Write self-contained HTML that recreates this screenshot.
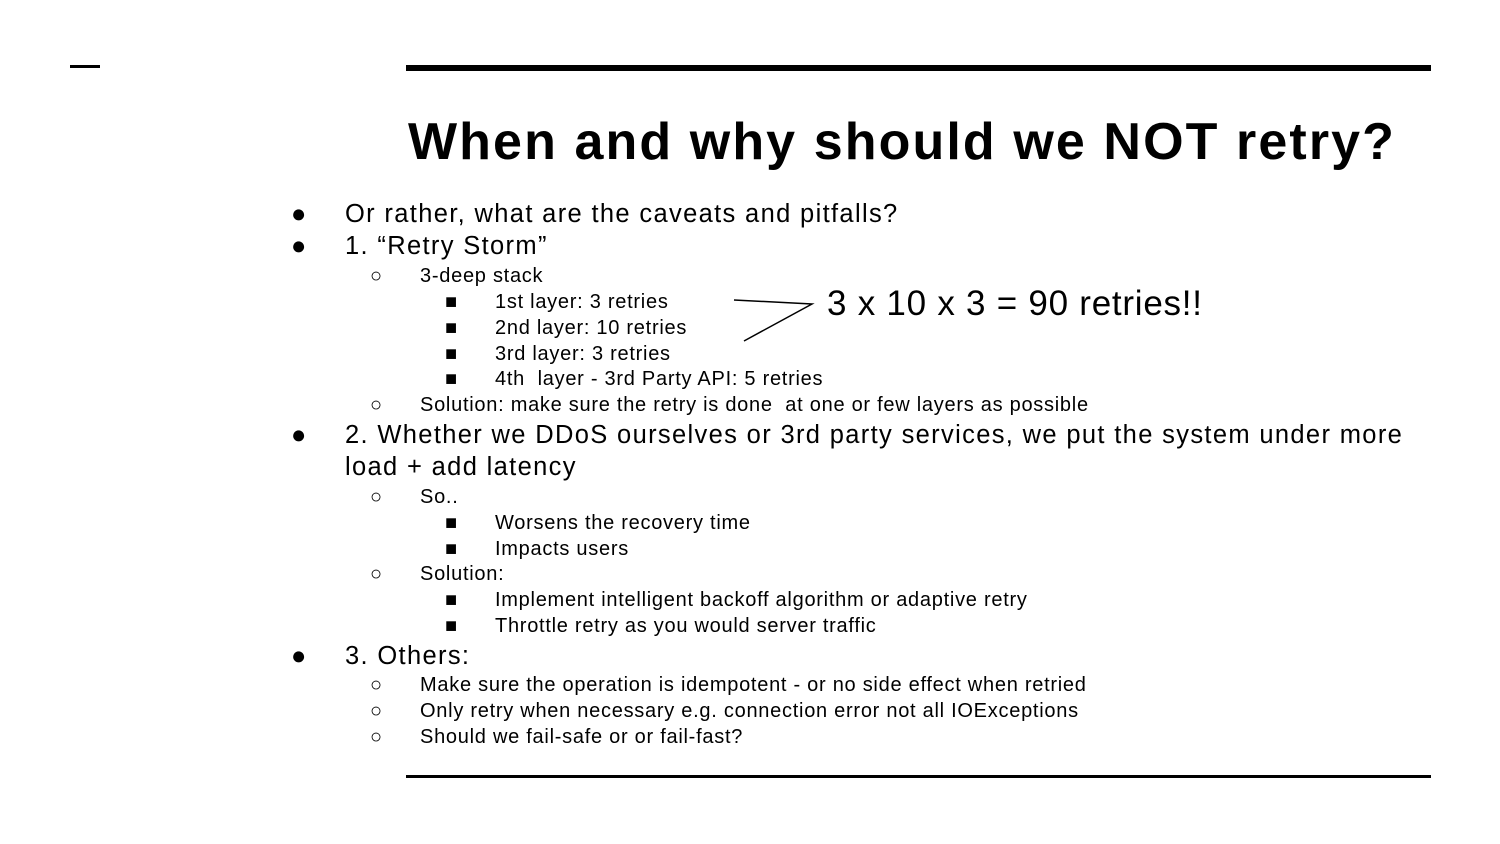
<!DOCTYPE html>
<html><head><style>
body{margin:0;width:1500px;height:844px;background:#fff;position:relative;overflow:hidden;font-family:"Liberation Sans",sans-serif;color:#000}
.l{position:absolute;white-space:nowrap;line-height:1}
.a{font-size:25.5px;letter-spacing:1.34px}
.b{font-size:20px;letter-spacing:0.73px}
.bar{position:absolute;background:#000}
</style></head><body>
<div class="bar" style="left:70px;top:65px;width:30px;height:3px"></div>
<div class="bar" style="left:406px;top:65px;width:1025px;height:6px"></div>
<div class="bar" style="left:406px;top:775px;width:1025px;height:3px"></div>
<div class="l" style="left:408px;top:116px;font-size:52px;font-weight:bold;letter-spacing:2.1px">When and why should we NOT retry?</div>

<div class="l a" style="left:291px;top:202px">●</div><div class="l a" style="left:345px;top:202px">Or rather, what are the caveats and pitfalls?</div>
<div class="l a" style="left:291px;top:234px">●</div><div class="l a" style="left:345px;top:234px">1. “Retry Storm”</div>
<div class="l b" style="left:370px;top:266px">○</div><div class="l b" style="left:420px;top:266px">3-deep stack</div>
<div class="l b" style="left:445px;top:292px">■</div><div class="l b" style="left:495px;top:292px">1st layer: 3 retries</div>
<div class="l b" style="left:445px;top:318px">■</div><div class="l b" style="left:495px;top:318px">2nd layer: 10 retries</div>
<div class="l b" style="left:445px;top:344px">■</div><div class="l b" style="left:495px;top:344px">3rd layer: 3 retries</div>
<div class="l b" style="left:445px;top:369px">■</div><div class="l b" style="left:495px;top:369px">4th&nbsp; layer - 3rd Party API: 5 retries</div>
<div class="l b" style="left:370px;top:395px">○</div><div class="l b" style="left:420px;top:395px">Solution: make sure the retry is done&nbsp; at one or few layers as possible</div>
<div class="l a" style="left:291px;top:423px">●</div><div class="l a" style="left:345px;top:423px">2. Whether we DDoS ourselves or 3rd party services, we put the system under more</div>
<div class="l a" style="left:345px;top:455px">load + add latency</div>
<div class="l b" style="left:370px;top:487px">○</div><div class="l b" style="left:420px;top:487px">So..</div>
<div class="l b" style="left:445px;top:513px">■</div><div class="l b" style="left:495px;top:513px">Worsens the recovery time</div>
<div class="l b" style="left:445px;top:539px">■</div><div class="l b" style="left:495px;top:539px">Impacts users</div>
<div class="l b" style="left:370px;top:564px">○</div><div class="l b" style="left:420px;top:564px">Solution:</div>
<div class="l b" style="left:445px;top:590px">■</div><div class="l b" style="left:495px;top:590px">Implement intelligent backoff algorithm or adaptive retry</div>
<div class="l b" style="left:445px;top:616px">■</div><div class="l b" style="left:495px;top:616px">Throttle retry as you would server traffic</div>
<div class="l a" style="left:291px;top:644px">●</div><div class="l a" style="left:345px;top:644px">3. Others:</div>
<div class="l b" style="left:370px;top:675px">○</div><div class="l b" style="left:420px;top:675px">Make sure the operation is idempotent - or no side effect when retried</div>
<div class="l b" style="left:370px;top:701px">○</div><div class="l b" style="left:420px;top:701px">Only retry when necessary e.g. connection error not all IOExceptions</div>
<div class="l b" style="left:370px;top:727px">○</div><div class="l b" style="left:420px;top:727px">Should we fail-safe or or fail-fast?</div>

<div class="l" style="left:827px;top:286px;font-size:35px;letter-spacing:0.75px">3 x 10 x 3 = 90 retries!!</div>
<svg style="position:absolute;left:0;top:0" width="1500" height="844"><polyline points="734,300 812,304 744,341" fill="none" stroke="#000" stroke-width="1.5"/></svg>
</body></html>
